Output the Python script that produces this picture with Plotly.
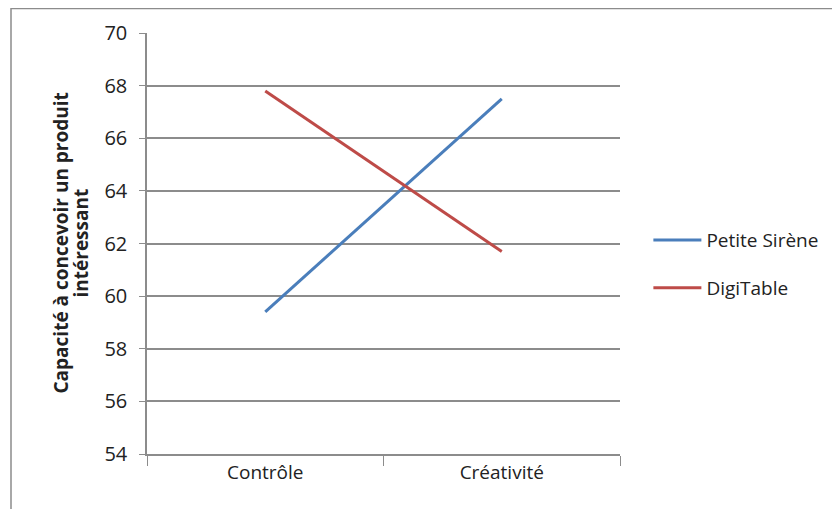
import plotly.graph_objects as go

# data
categories = ["Contrôle", "Créativité"]
petite_sirene = [59.4, 67.5]
digitable = [67.8, 61.7]
y_ticks = [54, 56, 58, 60, 62, 64, 66, 68, 70]
y_title = ["Capacité à concevoir un produit", "intéressant"]

font = "Open Sans, Liberation Sans, sans-serif"
grid = "#8c8c8c"

# page body has an 8px margin, so the figure is laid out shifted by -8px
L, T, PW, PH = 139, 25, 473, 421

fig = go.Figure()
fig.add_trace(go.Scatter(
    x=categories, y=petite_sirene, mode="lines", name="Petite Sirène",
    line=dict(color="#4A7EBB", width=3), legendgroup="a",
))
fig.add_trace(go.Scatter(
    x=categories, y=digitable, mode="lines", name="DigiTable",
    line=dict(color="#BE4B48", width=3), legendgroup="b",
))

# y title drawn as two rotated lines so the line spacing can match
for i, line in enumerate(y_title):
    fig.add_annotation(
        text=f"<b>{line}</b>", textangle=-90,
        xref="paper", yref="paper",
        x=(52 + 20 * i - L) / PW, y=0.5,
        xanchor="center", yanchor="middle",
        showarrow=False, font=dict(size=19),
    )

fig.update_layout(
    width=840, height=509,
    margin=dict(l=L, r=840 - L - PW, t=T, b=509 - T - PH),
    paper_bgcolor="white", plot_bgcolor="white",
    font=dict(family=font, color="#222222"),
    showlegend=True,
    legend=dict(
        x=1.06, y=0.451, xanchor="left", yanchor="middle",
        font=dict(size=19), tracegroupgap=20, itemwidth=48,
        bgcolor="rgba(0,0,0,0)",
    ),
    xaxis=dict(
        type="category", range=[-0.5, 1.5],
        showgrid=False, showline=True, linecolor=grid, linewidth=1.5,
        ticks="outside", tickson="boundaries", ticklen=10, tickcolor=grid,
        tickfont=dict(size=19), zeroline=False,
    ),
    yaxis=dict(
        range=[54, 70], tickvals=y_ticks,
        showgrid=True, gridcolor=grid, gridwidth=1.5,
        showline=True, linecolor=grid, linewidth=1.5,
        ticks="outside", ticklen=6, tickcolor=grid,
        tickfont=dict(size=20), ticklabelstandoff=8, zeroline=False,
    ),
    shapes=[dict(
        type="rect", xref="paper", yref="paper",
        x0=(3 - L) / PW, x1=1.6, y0=-0.3, y1=1 + (T - 0.5) / PH,
        line=dict(color="#8c8c8c", width=1.5), layer="below",
    )],
)

fig.write_html("out.html")
